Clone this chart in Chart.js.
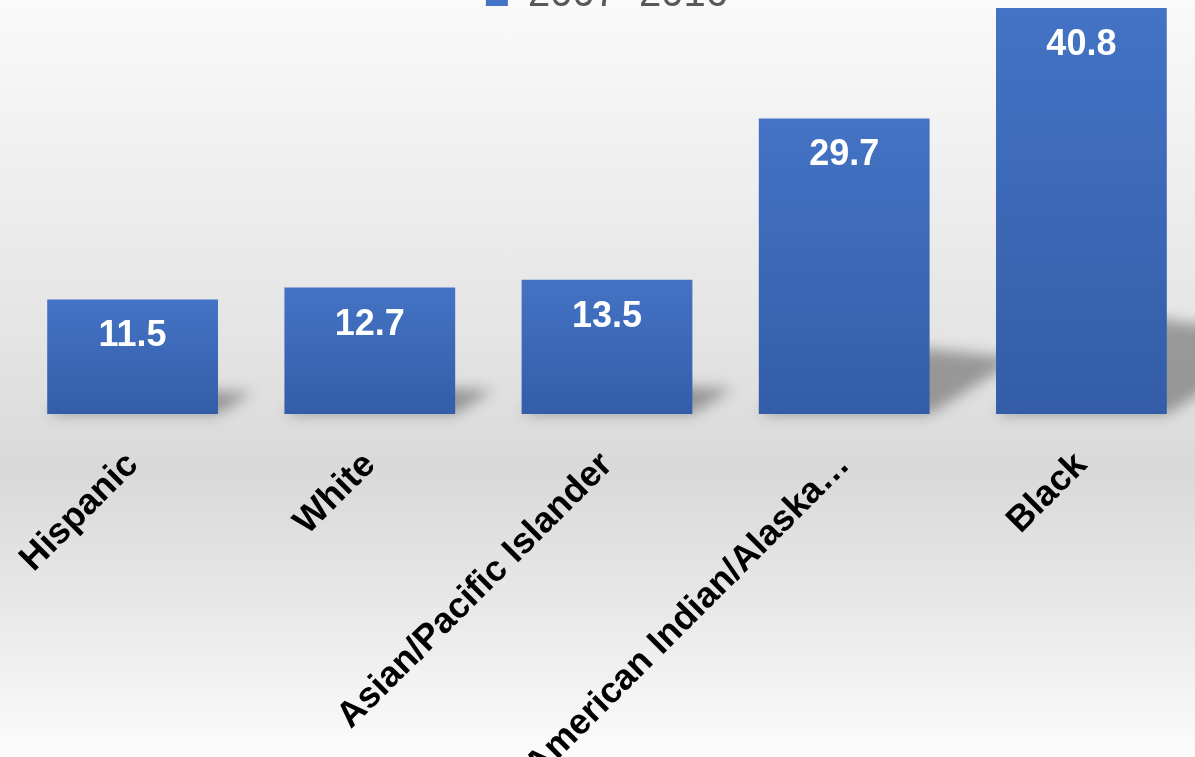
<!DOCTYPE html>
<html>
<head>
<meta charset="utf-8">
<script src="https://cdn.jsdelivr.net/npm/chart.js@4.4.1/dist/chart.umd.min.js"></script>
<style>
  html, body {
    margin: 0;
    padding: 0;
    width: 1195px;
    height: 757px;
    overflow: hidden;
    background: linear-gradient(to bottom, #fafafa 0%, #e4e4e4 45%, #d9d9d9 62%, #e8e8e8 80%, #fcfcfc 100%);
    font-family: Arial, "Liberation Sans", sans-serif;
  }
  #wrap {
    position: absolute;
    left: 0;
    top: -31px;
    width: 1215px;
    height: 851px;
  }
</style>
</head>
<body>
<div id="wrap"><canvas id="mortality"></canvas></div>
<script>
// Pregnancy-related mortality ratio by race/ethnicity
const seriesName = '2007–2016';
const groups = ['Hispanic', 'White', 'Asian/Pacific Islander', 'American Indian/Alaska…', 'Black'];
const ratios = [11.5, 12.7, 13.5, 29.7, 40.8];

const yMin = 0;
const yMax = 41;

// Vertical blue gradient for each bar, from its top to the baseline
function barFill(ctx) {
  const chart = ctx.chart;
  const area = chart.chartArea;
  if (!area || ctx.type !== 'data') return '#4472c4';
  const y = chart.scales.y;
  const top = y.getPixelForValue(ctx.raw);
  const base = y.getPixelForValue(0);
  const g = chart.ctx.createLinearGradient(0, top, 0, base);
  g.addColorStop(0, '#4473c5');
  g.addColorStop(1, '#335da7');
  return g;
}

// Soft perspective shadow cast behind each bar, towards the right
const barShadows = {
  id: 'barShadows',
  beforeDatasetsDraw(chart) {
    const ctx = chart.ctx;
    const meta = chart.getDatasetMeta(0);
    ctx.save();
    ctx.filter = 'blur(7px)';
    ctx.fillStyle = 'rgba(0, 0, 0, 0.33)';
    meta.data.forEach(bar => {
      const h = bar.base - bar.y;
      const x0 = bar.x - bar.width / 2;
      const x1 = bar.x + bar.width / 2;
      const rise = h * 0.25;
      const shift = h * 0.3;
      ctx.beginPath();
      ctx.moveTo(x0, bar.base);
      ctx.lineTo(x1, bar.base);
      ctx.lineTo(x1 + shift, bar.base - rise * 0.75);
      ctx.lineTo(x0 + shift, bar.base - rise);
      ctx.closePath();
      ctx.fill();
    });
    ctx.restore();
  }
};

// White value labels inside the top of each bar
const valueLabels = {
  id: 'valueLabels',
  afterDatasetsDraw(chart) {
    const ctx = chart.ctx;
    const meta = chart.getDatasetMeta(0);
    ctx.save();
    ctx.fillStyle = '#ffffff';
    ctx.font = 'bold 36px Arial, "Liberation Sans", sans-serif';
    ctx.textAlign = 'center';
    ctx.textBaseline = 'middle';
    meta.data.forEach((bar, i) => {
      ctx.fillText(ratios[i].toFixed(1), bar.x, bar.y + 37);
    });
    ctx.restore();
  }
};

const chart = new Chart(document.getElementById('mortality'), {
  type: 'bar',
  data: {
    labels: groups,
    datasets: [{
      label: seriesName,
      data: ratios,
      backgroundColor: barFill,
      borderWidth: 0,
      barPercentage: 0.8,
      categoryPercentage: 0.9
    }]
  },
  options: {
    responsive: true,
    maintainAspectRatio: false,
    animation: false,
    layout: { padding: { left: 14, right: 15, top: 0, bottom: 0 } },
    plugins: {
      legend: {
        display: true,
        position: 'top',
        maxHeight: 37,
        labels: {
          color: '#595959',
          font: { size: 40, family: 'Arial, "Liberation Sans", sans-serif' },
          boxWidth: 22,
          boxHeight: 22,
          padding: 6
        }
      },
      tooltip: { enabled: false }
    },
    scales: {
      x: {
        grid: { display: false },
        border: { display: false },
        ticks: {
          color: '#000000',
          minRotation: 45,
          maxRotation: 45,
          padding: 22,
          font: { size: 36, weight: 'bold', family: 'Arial, "Liberation Sans", sans-serif' }
        },
        afterFit(scale) {
          scale.height = 406;
          scale.paddingLeft = 0;
          scale.paddingRight = 0;
        }
      },
      y: {
        display: false,
        min: yMin,
        max: yMax
      }
    }
  },
  plugins: [barShadows, valueLabels]
});
</script>
</body>
</html>
